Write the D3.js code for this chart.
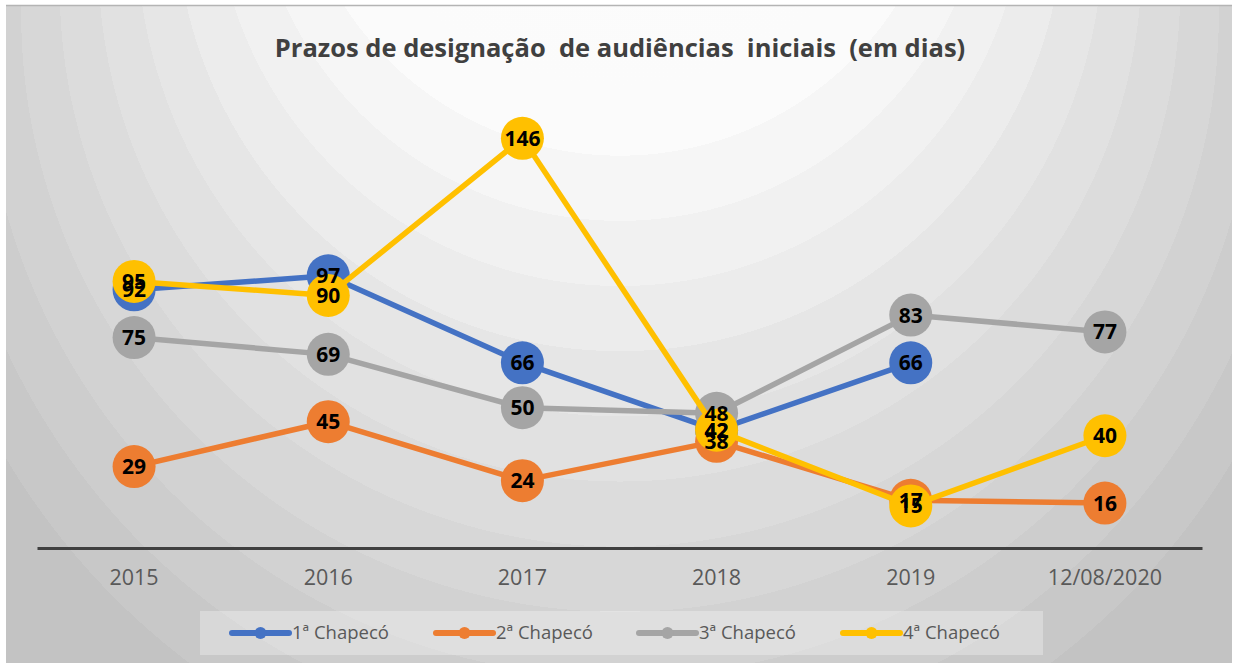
<!DOCTYPE html>
<html>
<head>
<meta charset="utf-8">
<script src="https://cdn.jsdelivr.net/npm/d3@7"></script>
<style>
  html, body { margin: 0; padding: 0; background: #fff; }
  svg { display: block; font-family: "Open Sans", sans-serif; }
</style>
</head>
<body>
<svg id="chart" width="1237" height="668"></svg>
<script>
// categories and series values
const categories = ["2015", "2016", "2017", "2018", "2019", "12/08/2020"];
const seriesNames = ["1ª Chapecó", "2ª Chapecó", "3ª Chapecó", "4ª Chapecó"];
const chapeco1 = [92, 97, 66, 42, 66, null];
const chapeco2 = [29, 45, 24, 38, 17, 16];
const chapeco3 = [75, 69, 50, 48, 83, 77];
const chapeco4 = [95, 90, 146, 42, 15, 40];
const seriesColors = ["#4472C4", "#ED7D31", "#A5A5A5", "#FFC000"];
const titleText = "Prazos de designação  de audiências  iniciais  (em dias)";

const series = [chapeco1, chapeco2, chapeco3, chapeco4].map((values, i) => ({
    name: seriesNames[i],
    color: seriesColors[i],
    values: values
}));

const svg = d3.select("#chart");
const frame = { x: 6, y: 5, w: 1226, h: 658 };

// Background: stepped radial gradient, lightest around the title
const defs = svg.append("defs");
const grad = defs.append("radialGradient")
    .attr("id", "bg")
    .attr("gradientUnits", "userSpaceOnUse")
    .attr("cx", 620).attr("cy", 300).attr("r", 1015)
    .attr("fx", 620).attr("fy", -400);
const tStart = 0.286, tEnd = 0.70, band = 0.038;
const shade = d3.interpolateRgb("#fbfbfb", "#c3c3c3");
grad.append("stop").attr("offset", 0).attr("stop-color", "#fdfdfd");
grad.append("stop").attr("offset", tStart).attr("stop-color", "#fbfbfb");
for (let t = tStart; t < 1; t += band) {
    const c = shade(Math.min(1, (t - tStart) / (tEnd - tStart)));
    grad.append("stop").attr("offset", t).attr("stop-color", c);
    grad.append("stop").attr("offset", Math.min(1, t + band)).attr("stop-color", c);
}

svg.append("rect")
    .attr("x", frame.x).attr("y", frame.y)
    .attr("width", frame.w).attr("height", frame.h)
    .attr("fill", "url(#bg)");
svg.append("line")
    .attr("x1", frame.x).attr("x2", frame.x + frame.w)
    .attr("y1", frame.y + 0.5).attr("y2", frame.y + 0.5)
    .attr("stroke", "#b4b4b4").attr("stroke-width", 1.5);

// Scales
const x = d3.scaleBand().domain(categories).range([37, 1202]);
const y = d3.scaleLinear().domain([0, 160]).range([548, 99]);
const cx = d => x(d) + x.bandwidth() / 2;

// Title
svg.append("text")
    .attr("x", 620).attr("y", 57)
    .attr("text-anchor", "middle")
    .style("white-space", "pre")
    .attr("font-size", 25.5).attr("font-weight", "bold")
    .attr("fill", "#404040")
    .text(titleText);

// X axis
const xAxis = svg.append("g")
    .attr("transform", "translate(0,548)")
    .call(d3.axisBottom(x).tickSize(0).tickPadding(22));
xAxis.select(".domain").attr("stroke", "#404040").attr("stroke-width", 3);
xAxis.selectAll("text")
    .attr("font-family", "Open Sans, sans-serif")
    .attr("font-size", 21.5)
    .attr("fill", "#595959");

// Lines and markers, series by series
const line = d3.line()
    .defined(d => d.v != null)
    .x(d => cx(d.c))
    .y(d => y(d.v));

series.forEach(s => {
    const pts = s.values.map((v, i) => ({ c: categories[i], v: v }));
    const g = svg.append("g");
    g.append("path")
        .datum(pts)
        .attr("d", line)
        .attr("fill", "none")
        .attr("stroke", s.color)
        .attr("stroke-width", 5.5)
        .attr("stroke-linejoin", "round");
    g.selectAll("circle")
        .data(pts.filter(d => d.v != null))
        .join("circle")
        .attr("cx", d => cx(d.c))
        .attr("cy", d => y(d.v))
        .attr("r", 21.5)
        .attr("fill", s.color);
});

// Data labels on top
series.forEach(s => {
    const pts = s.values.map((v, i) => ({ c: categories[i], v: v })).filter(d => d.v != null);
    svg.append("g").selectAll("text")
        .data(pts)
        .join("text")
        .attr("x", d => cx(d.c))
        .attr("y", d => y(d.v))
        .attr("dy", "0.36em")
        .attr("text-anchor", "middle")
        .attr("font-size", 21).attr("font-weight", "bold")
        .attr("fill", "#000")
        .text(d => d.v);
});

// Legend
const legend = svg.append("g");
legend.append("rect")
    .attr("x", 200).attr("y", 611)
    .attr("width", 843).attr("height", 44)
    .attr("fill", "#ffffff").attr("fill-opacity", 0.3);
const legendX = [232, 436, 639, 843];
series.forEach((s, i) => {
    const g = legend.append("g").attr("transform", `translate(${legendX[i]},633)`);
    g.append("line")
        .attr("x1", 0).attr("x2", 57)
        .attr("stroke", s.color).attr("stroke-width", 6)
        .attr("stroke-linecap", "round");
    g.append("circle").attr("cx", 28.5).attr("r", 6).attr("fill", s.color);
    g.append("text")
        .attr("x", 60).attr("dy", "0.35em")
        .attr("font-size", 18.5)
        .attr("fill", "#595959")
        .text(s.name);
});
</script>
</body>
</html>
